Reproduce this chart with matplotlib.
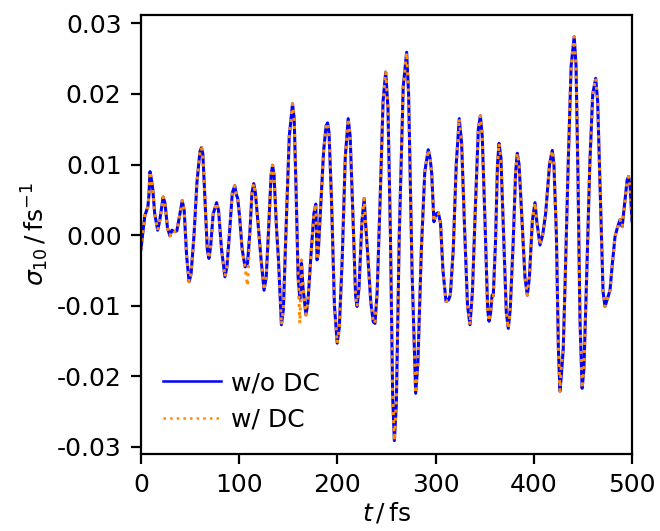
""" Dipole response sigma_10 with and without DC correction. """
import numpy as np
import matplotlib
matplotlib.use('Agg')
import matplotlib.pyplot as plt

plt.rcParams['font.size'] = 9
plt.rcParams['axes.unicode_minus'] = False

# time grid (fs) and sigma_10 values (fs^-1)
t_fs = [
    0, 2, 4, 7, 8, 9.2, 10.5, 12, 14, 17, 19, 22.6, 24.5, 27, 29.5, 31.5, 34,
    36.5, 39, 42, 44, 46.5, 49, 51, 54, 57, 60, 61.6, 63, 65.5, 67.5, 69.2,
    71, 73.5, 77, 79, 82, 85.5, 87.5, 90, 93, 95.5, 97, 98.5, 100.5, 103,
    106, 108.5, 111, 113, 114.8, 116.5, 119, 122, 125.3, 127.5, 130, 132.5,
    134, 135.5, 138, 140, 143, 145, 148, 151, 154.3, 156, 158, 160, 161.8,
    163.5, 165, 168, 170, 173, 176, 178, 179.3, 180.5, 183, 186, 188.5, 190,
    191.5, 194, 197, 199.8, 202, 205, 208, 211, 213, 216, 218.5, 220, 222,
    225, 227.3, 228.7, 231, 234, 236.5, 238.3, 240.5, 243.5, 246.5, 249.2,
    251.5, 254, 256.3, 258, 260, 263, 267, 270.5, 272.5, 276, 279.7, 282,
    285.5, 289, 292.5, 294.5, 296, 298.3, 300.5, 302.7, 305, 307.5, 310.6,
    313, 315, 318, 321, 324.1, 326.5, 329.5, 332.5, 335, 337.5, 340.5, 343.5,
    345.6, 347.5, 350.5, 353, 354.4, 356, 357.5, 358.7, 361, 363, 364.6,
    366.5, 369.5, 372, 374, 376, 379, 381.5, 383.2, 385, 388, 391, 393.4,
    395.5, 398.5, 401.2, 403, 406.3, 409, 412, 416, 418.8, 420.5, 423, 425,
    426.6, 428, 430, 432, 435, 438, 441.1, 443, 445, 447, 449.2, 451, 454,
    457, 460, 463, 465, 468, 470.5, 472.5, 475, 477.6, 480, 482.7, 485,
    487.8, 490, 492.5, 495, 496.5, 498, 500,
]
sigma_wo_dc = [
    -0.0020, 0.0005, 0.0028, 0.0040, 0.0055, 0.0090, 0.0080, 0.0065, 0.0030,
    0.0007, 0.0020, 0.0054, 0.0045, 0.0010, -0.0001, 0.0007, 0.0005, 0.0006,
    0.0025, 0.0049, 0.0035, -0.0030, -0.0066, -0.0055, 0.0000, 0.0075,
    0.0118, 0.0124, 0.0115, 0.0040, -0.0020, -0.0033, -0.0015, 0.0030,
    0.0046, 0.0035, -0.0020, -0.0059, -0.0045, 0.0000, 0.0060, 0.0070,
    0.0058, 0.0052, 0.0025, -0.0020, -0.0045, -0.0040, 0.0007, 0.0060,
    0.0073, 0.0060, 0.0020, -0.0030, -0.0078, -0.0060, 0.0010, 0.0085,
    0.0099, 0.0085, 0.0010, -0.0035, -0.0127, -0.0105, 0.0020, 0.0140,
    0.0186, 0.0165, 0.0060, -0.0060, -0.0090, -0.0040, -0.0075, -0.0113,
    -0.0095, -0.0030, 0.0030, 0.0044, -0.0035, -0.0025, 0.0040, 0.0120,
    0.0155, 0.0159, 0.0145, 0.0050, -0.0100, -0.0153, -0.0130, -0.0030,
    0.0110, 0.0165, 0.0140, 0.0020, -0.0085, -0.0101, -0.0075, 0.0020,
    0.0052, 0.0017, -0.0030, -0.0095, -0.0123, -0.0125, -0.0080, 0.0050,
    0.0190, 0.0231, 0.0180, 0.0000, -0.0230, -0.0291, -0.0240, 0.0000,
    0.0210, 0.0259, 0.0200, -0.0050, -0.0224, -0.0180, -0.0020, 0.0090,
    0.0121, 0.0108, 0.0088, 0.0019, 0.0030, 0.0032, 0.0017, -0.0050,
    -0.0094, -0.0092, -0.0085, -0.0020, 0.0100, 0.0165, 0.0130, 0.0010,
    -0.0100, -0.0127, -0.0080, 0.0040, 0.0150, 0.0169, 0.0140, 0.0010,
    -0.0105, -0.0122, -0.0110, -0.0085, -0.0086, -0.0010, 0.0100, 0.0130,
    0.0110, -0.0010, -0.0110, -0.0132, -0.0105, -0.0010, 0.0090, 0.0116,
    0.0100, 0.0020, -0.0060, -0.0085, -0.0060, 0.0020, 0.0046, 0.0020,
    -0.0014, 0.0000, 0.0030, 0.0100, 0.0120, 0.0100, 0.0000, -0.0160,
    -0.0221, -0.0200, -0.0160, -0.0060, 0.0100, 0.0240, 0.0281, 0.0240,
    0.0080, -0.0120, -0.0217, -0.0190, -0.0050, 0.0100, 0.0200, 0.0222,
    0.0190, 0.0040, -0.0080, -0.0101, -0.0090, -0.0078, -0.0040, -0.0002,
    0.0010, 0.0022, 0.0012, 0.0045, 0.0078, 0.0083, 0.0070, 0.0020,
]
# points where the DC-corrected curve departs from the uncorrected one
dc_diff_t = [108.5, 161.8, 163.5, 428]
dc_diff_v = [-0.0072, -0.0125, -0.0035, -0.0185]

t = np.array(t_fs)
wo_dc = np.array(sigma_wo_dc)
w_dc = wo_dc.copy()
for tt, vv in zip(dc_diff_t, dc_diff_v):
    w_dc[np.argmin(np.abs(t - tt))] = vv

fig = plt.figure(figsize=(3.3, 2.655), dpi=200)
ax = fig.add_axes([0.2136, 0.145, 0.744, 0.827])
ax.plot(t, wo_dc, color='blue', lw=1.1, label='w/o DC')
ax.plot(t, w_dc, color='darkorange', lw=1.1, ls=':', label='w/ DC')

ax.set_xlim(0, 500)
ax.set_ylim(-0.031, 0.0312)
ax.set_yticks([-0.03, -0.02, -0.01, 0.0, 0.01, 0.02, 0.03])
ax.set_xlabel(r'$t\,/\,\mathrm{fs}$', labelpad=1)
ax.set_ylabel(r'$\sigma_{10}\,/\,\mathrm{fs}^{-1}$', labelpad=2)
leg = ax.legend(loc='lower left', frameon=False, fontsize=9,
                handlelength=2.3, handletextpad=0.4)
for line in leg.get_lines():
    line.set_linewidth(0.9)

fig.savefig('out.png', dpi=200)
